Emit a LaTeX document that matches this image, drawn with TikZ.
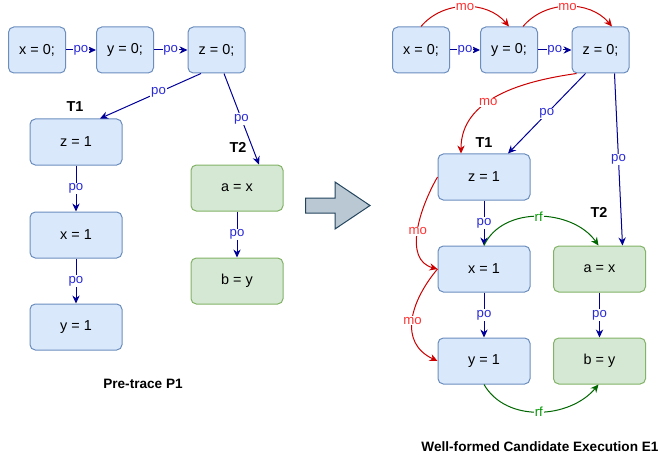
\documentclass[tikz,border=0pt]{standalone}
\usepackage{fontspec}
\setmainfont{Liberation Sans}
\usepackage{tikz}
\usetikzlibrary{calc,arrows.meta}
\definecolor{bluefill}{HTML}{DAE8FC}
\definecolor{bluedraw}{HTML}{6C8EBF}
\definecolor{greenfill}{HTML}{D5E8D4}
\definecolor{greendraw}{HTML}{82B366}
\definecolor{arrowfill}{HTML}{BAC8D3}
\definecolor{arrowdraw}{HTML}{23445D}
\definecolor{poline}{HTML}{000099}
\definecolor{potext}{HTML}{2B2BD6}
\definecolor{moline}{HTML}{CC0000}
\definecolor{motext}{HTML}{FF3333}
\definecolor{rfline}{HTML}{006600}
\definecolor{rftext}{HTML}{009900}
\tikzstyle{instr} = [rectangle, rounded corners=4pt, draw=bluedraw, fill=bluefill, line width=0.75pt, minimum height=34.5pt, minimum width=42.75pt, text centered, font=\fontsize{10.8}{13}\selectfont]
\tikzstyle{wide} = [instr, minimum width=69pt]
\tikzstyle{readbox} = [wide, draw=greendraw, fill=greenfill]
\tikzstyle{poarrow} = [draw=poline, line width=0.75pt, -{Stealth[length=6pt,width=5.5pt]}]
\tikzstyle{moarrow} = [poarrow, draw=moline]
\tikzstyle{rfarrow} = [poarrow, draw=rfline]
\tikzstyle{polabel} = [fill=white, inner sep=0.6pt, text=potext, font=\fontsize{9.9}{11}\selectfont]
\tikzstyle{molabel} = [polabel, text=motext]
\tikzstyle{rflabel} = [polabel, text=rftext]
\tikzstyle{thread} = [font=\bfseries\fontsize{10.8}{13}\selectfont]
\tikzstyle{caption} = [font=\bfseries\fontsize{10.2}{12}\selectfont]

\begin{document}
\begin{tikzpicture}[x=0.75pt, y=-0.75pt]

            \useasboundingbox (0,0) rectangle (661,460);

            %% pre-trace

            \node (lx0) [instr] at (37,50) {x = 0;};
            \node (ly0) [instr] at (125,50) {y = 0;};
            \node (lz0) [instr] at (216.5,50) {z = 0;};

            \node (lz1) [wide] at (76,142) {z = 1};
            \node (lx1) [wide] at (76,235) {x = 1};
            \node (ly1) [wide] at (76,327) {y = 1};

            \node (la) [readbox] at (237,188) {a = x};
            \node (lb) [readbox] at (237,281) {b = y};

            \node (lt1) [thread] at (75,107) {T1};
            \node (lt2) [thread] at (238,147) {T2};

            \draw [poarrow] (lx0) -- node [polabel] {po} (ly0);
            \draw [poarrow] (ly0) -- node [polabel] {po} (lz0);
            \draw [poarrow] ($(lz0.south)+(-15.5,0)$) -- node [polabel, pos=0.42] {po} ($(lz1.north)+(24,0)$);
            \draw [poarrow] ($(lz0.south)+(7.5,0)$) -- node [polabel] {po} ($(la.north)+(22,0)$);
            \draw [poarrow] (lz1) -- node [polabel] {po} (lx1);
            \draw [poarrow] (lx1) -- node [polabel] {po} (ly1);
            \draw [poarrow] (la) -- node [polabel] {po} (lb);

            \node (lcap) [caption] at (143,384) {Pre-trace P1};

            %% arrow

            \draw [draw=arrowdraw, fill=arrowfill, line width=0.75pt]
                (305.5,198) -- (335,198) -- (335,182) -- (370,205.5) -- (335,229) -- (335,213) -- (305.5,213) -- cycle;

            %% candidate execution

            \node (rx0) [instr] at (421,50) {x = 0;};
            \node (ry0) [instr] at (509,50) {y = 0;};
            \node (rz0) [instr] at (600.5,50) {z = 0;};

            \node (rz1) [wide] at (484,177) {z = 1};
            \node (rx1) [wide] at (484,269) {x = 1};
            \node (ry1) [wide] at (484,361) {y = 1};

            \node (ra) [readbox] at (599.5,269) {a = x};
            \node (rb) [readbox] at (599.5,361) {b = y};

            \node (rt1) [thread] at (484,143) {T1};
            \node (rt2) [thread] at (599,212) {T2};

            \draw [poarrow] (rx0) -- node [polabel] {po} (ry0);
            \draw [poarrow] (ry0) -- node [polabel] {po} (rz0);
            \draw [poarrow] ($(rz0.south)+(-15,0)$) -- node [polabel] {po} ($(rz1.north)+(24,0)$);
            \draw [poarrow] ($(rz0.south)+(14,0)$) -- node [polabel] {po} ($(ra.north)+(23,0)$);
            \draw [poarrow] (rz1) -- node [polabel] {po} (rx1);
            \draw [poarrow] (rx1) -- node [polabel] {po} (ry1);
            \draw [poarrow] (ra) -- node [polabel] {po} (rb);

            \draw [moarrow] (rx0.north) to [out=50, in=130] node [molabel] {mo} (ry0.north);
            \draw [moarrow] ($(ry0.north)+(14,0)$) to [out=50, in=130] node [molabel] {mo} ($(rz0.north)+(11.5,0)$);
            \draw [moarrow] ($(rz0.south)+(-24,0)$) to [out=188, in=90] node [molabel, pos=0.58] {mo} ($(rz1.north)+(-23,0)$);
            \draw [moarrow] (rz1.west) to [out=240, in=165] node [molabel] {mo} (rx1.west);
            \draw [moarrow] (rx1.west) to [out=230, in=155, looseness=1.2] node [molabel] {mo} (ry1.west);

            \draw [rfarrow] (rx1.north) to [out=65, in=125] node [rflabel] {rf} ($(ra.north)+(-1,0)$);
            \draw [rfarrow] (ry1.south) to [out=-60, in=-130] node [rflabel] {rf} ($(rb.south)+(-1,0)$);

            \node (rcap) [caption] at (540,447) {Well-formed Candidate Execution E1};

        \end{tikzpicture}
\end{document}
